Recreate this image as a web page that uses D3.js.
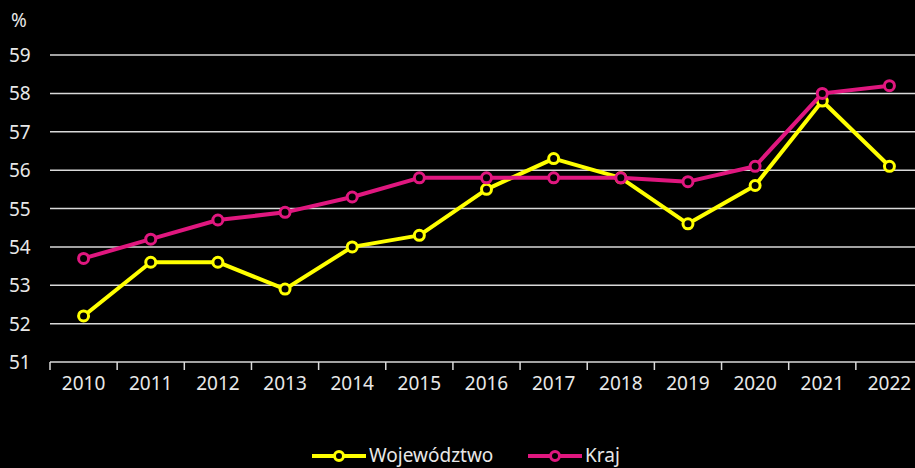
<!DOCTYPE html>
<html>
<head>
<meta charset="utf-8">
<script src="https://cdn.jsdelivr.net/npm/d3@7"></script>
<style>
  body { margin: 0; background: #000; }
  text { font-family: "Noto Sans", sans-serif; fill: #e8e8e8; }
</style>
</head>
<body>
<script>
  let years = ["2010","2011","2012","2013","2014","2015","2016","2017","2018","2019","2020","2021","2022"];
  let wojewodztwo = [52.2, 53.6, 53.6, 52.9, 54.0, 54.3, 55.5, 56.3, 55.8, 54.6, 55.6, 57.8, 56.1];
  let kraj = [53.7, 54.2, 54.7, 54.9, 55.3, 55.8, 55.8, 55.8, 55.8, 55.7, 56.1, 58.0, 58.2];
  let yTicks = [51, 52, 53, 54, 55, 56, 57, 58, 59];
  let seriesNames = ["Województwo", "Kraj"];
  let seriesColors = ["#ffff00", "#e0177f"];

  let svg = d3.select("body").append("svg")
    .attr("width", 915)
    .attr("height", 468);

  let xScale = d3.scaleBand().domain(years).range([50, 923]);
  let yScale = d3.scaleLinear().domain([51, 59]).range([362, 55]);

  // gridlines
  svg.append("g").selectAll("line")
    .data(yTicks.slice(1))
    .enter().append("line")
    .attr("x1", 50).attr("x2", 915)
    .attr("y1", d => yScale(d)).attr("y2", d => yScale(d))
    .attr("stroke", "#d9d9d9").attr("stroke-width", 1.5);

  // y labels
  svg.append("g").selectAll("text")
    .data(yTicks)
    .enter().append("text")
    .attr("x", 9).attr("y", d => yScale(d) + 7)
    .attr("font-size", 19)
    .text(d => d);
  svg.append("text").attr("x", 11).attr("y", 27).attr("font-size", 19).text("%");

  // x axis
  let xAxis = d3.axisBottom(xScale).tickSize(0).tickPadding(15);
  let gx = svg.append("g").attr("transform", "translate(0,362)").call(xAxis);
  gx.select(".domain").attr("stroke", "#d9d9d9").attr("stroke-width", 1.5).attr("d", "M50,0H915");
  gx.selectAll("text").attr("font-size", 19).attr("font-family", "Noto Sans").attr("fill", "#e8e8e8");
  svg.append("g").selectAll("line")
    .data(years)
    .enter().append("line")
    .attr("x1", d => xScale(d)).attr("x2", d => xScale(d))
    .attr("y1", 362).attr("y2", 370)
    .attr("stroke", "#d9d9d9").attr("stroke-width", 1.5);

  let line = d3.line()
    .x((d, i) => xScale(years[i]) + xScale.bandwidth() / 2)
    .y(d => yScale(d));

  [wojewodztwo, kraj].forEach((series, k) => {
    svg.append("path")
      .datum(series)
      .attr("d", line)
      .attr("fill", "none")
      .attr("stroke", seriesColors[k])
      .attr("stroke-width", 4)
      .attr("stroke-linejoin", "round");
    svg.append("g").selectAll("circle")
      .data(series)
      .enter().append("circle")
      .attr("cx", (d, i) => xScale(years[i]) + xScale.bandwidth() / 2)
      .attr("cy", d => yScale(d))
      .attr("r", 5)
      .attr("fill", "#000")
      .attr("stroke", seriesColors[k])
      .attr("stroke-width", 3);
  });

  // legend
  let legendX = [312, 528];
  seriesNames.forEach((name, k) => {
    let g = svg.append("g").attr("transform", "translate(" + legendX[k] + ",456)");
    g.append("line").attr("x1", 0).attr("x2", 54).attr("y1", 0).attr("y2", 0)
      .attr("stroke", seriesColors[k]).attr("stroke-width", 4);
    g.append("circle").attr("cx", 27).attr("cy", 0).attr("r", 4.5)
      .attr("fill", "#000").attr("stroke", seriesColors[k]).attr("stroke-width", 3);
    g.append("text").attr("x", 57).attr("y", 6).attr("font-size", 19).text(name);
  });
</script>
</body>
</html>
